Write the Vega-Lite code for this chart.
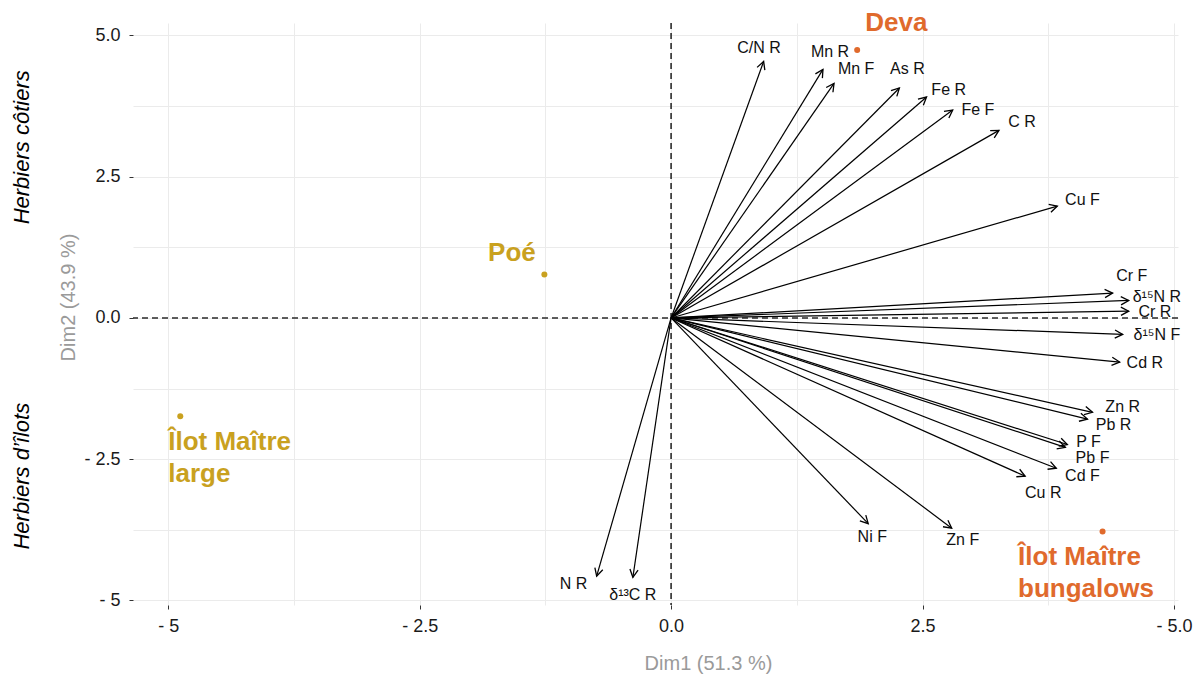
{
  "$schema": "https://vega.github.io/schema/vega-lite/v6.json",
  "width": 1045,
  "height": 582,
  "autosize": {"type": "none"},
  "padding": {"left": 133, "top": 23, "right": 26, "bottom": 75},
  "background": "white",
  "config": {"view": {"stroke": null}, "font": "Liberation Sans"},
  "datasets": {
    "vars": [
      {"var": "C/N R", "x": 0.92, "y": 4.54, "lx": 0.875, "ly": 4.77},
      {"var": "Mn R", "x": 1.51, "y": 4.40, "lx": 1.58, "ly": 4.70},
      {"var": "Mn F", "x": 1.62, "y": 4.15, "lx": 1.84, "ly": 4.40},
      {"var": "As R", "x": 2.27, "y": 4.07, "lx": 2.35, "ly": 4.40},
      {"var": "Fe R", "x": 2.54, "y": 3.91, "lx": 2.76, "ly": 4.03},
      {"var": "Fe F", "x": 2.80, "y": 3.68, "lx": 3.05, "ly": 3.68},
      {"var": "C R", "x": 3.26, "y": 3.32, "lx": 3.49, "ly": 3.46},
      {"var": "Cu F", "x": 3.84, "y": 1.98, "lx": 4.09, "ly": 2.08},
      {"var": "Cr F", "x": 4.39, "y": 0.44, "lx": 4.58, "ly": 0.74},
      {"var": "δ¹⁵N R", "x": 4.55, "y": 0.31, "lx": 4.83, "ly": 0.37},
      {"var": "Cr R", "x": 4.55, "y": 0.12, "lx": 4.81, "ly": 0.10},
      {"var": "δ¹⁵N F", "x": 4.49, "y": -0.29, "lx": 4.83, "ly": -0.31},
      {"var": "Cd R", "x": 4.46, "y": -0.78, "lx": 4.71, "ly": -0.80},
      {"var": "Zn R", "x": 4.19, "y": -1.67, "lx": 4.49, "ly": -1.58},
      {"var": "Pb R", "x": 4.14, "y": -1.79, "lx": 4.40, "ly": -1.90},
      {"var": "P F", "x": 3.94, "y": -2.24, "lx": 4.15, "ly": -2.20},
      {"var": "Pb F", "x": 3.92, "y": -2.29, "lx": 4.19, "ly": -2.48},
      {"var": "Cd F", "x": 3.83, "y": -2.66, "lx": 4.09, "ly": -2.80},
      {"var": "Cu R", "x": 3.52, "y": -2.80, "lx": 3.70, "ly": -3.10},
      {"var": "Ni F", "x": 1.96, "y": -3.64, "lx": 2.00, "ly": -3.88},
      {"var": "Zn F", "x": 2.79, "y": -3.72, "lx": 2.90, "ly": -3.93},
      {"var": "N R", "x": -0.74, "y": -4.57, "lx": -0.97, "ly": -4.70},
      {"var": "δ¹³C R", "x": -0.38, "y": -4.59, "lx": -0.38, "ly": -4.91}
    ],
    "sites": [
      {"site": "Deva", "label": "Deva", "x": 1.85, "y": 4.74, "lx": 1.93, "ly": 5.07},
      {"site": "Poé", "label": "Poé", "x": -1.26, "y": 0.77, "lx": -1.82, "ly": 1.00},
      {"site": "Îlot Maître large", "label": "Îlot Maître\nlarge", "x": -4.88, "y": -1.74, "lx": -5.0, "ly": -2.34},
      {"site": "Îlot Maître bungalows", "label": "Îlot Maître\nbungalows", "x": 4.29, "y": -3.78, "lx": 3.45, "ly": -4.38}
    ],
    "zones": [
      {"label": "Herbiers côtiers", "x": -6.45, "y": 3.02},
      {"label": "Herbiers d’îlots", "x": -6.45, "y": -2.80}
    ],
    "zero": [{"v": 0}]
  },
  "resolve": {"scale": {"x": "shared", "y": "shared"}},
  "layer": [
    {
      "data": {"name": "zero"},
      "mark": {"type": "rule", "strokeDash": [6, 4], "strokeWidth": 1.6, "color": "#2b2b2b"},
      "encoding": {
        "y": {
          "field": "v", "type": "quantitative",
          "scale": {"domain": [-5.08, 5.22], "nice": false, "zero": false},
          "axis": {
            "title": "Dim2 (43.9 %)",
            "values": [-5, -3.75, -2.5, -1.25, 0, 1.25, 2.5, 3.75, 5],
            "labelExpr": "datum.value==5?'5.0':datum.value==2.5?'2.5':datum.value==0?'0.0':datum.value==-2.5?'- 2.5':datum.value==-5?'- 5':''",
            "grid": true, "gridColor": "#ebebeb", "gridWidth": 1,
            "domain": false, "tickSize": 4, "tickWidth": 1,
            "tickColor": {"condition": {"test": "abs(datum.value) % 2.5 > 0.01", "value": "transparent"}, "value": "#333333"},
            "labelFontSize": 18, "labelColor": "#1a1a1a", "labelPadding": 9,
            "labelOverlap": false, "labelFlush": false,
            "titleColor": "#9a9a9a", "titleFontSize": 20, "titleFontWeight": "normal",
            "titleX": -65, "titleY": 274, "titleBaseline": "middle", "titleAngle": -90, "titleAlign": "center"
          }
        }
      }
    },
    {
      "data": {"name": "zero"},
      "mark": {"type": "rule", "strokeDash": [6, 4], "strokeWidth": 1.6, "color": "#2b2b2b"},
      "encoding": {
        "x": {
          "field": "v", "type": "quantitative",
          "scale": {"domain": [-5.35, 5.04], "nice": false, "zero": false},
          "axis": {
            "title": "Dim1 (51.3 %)",
            "values": [-5, -3.75, -2.5, -1.25, 0, 1.25, 2.5, 3.75, 5],
            "labelExpr": "datum.value==-5?'- 5':datum.value==-2.5?'- 2.5':datum.value==0?'0.0':datum.value==2.5?'2.5':datum.value==5?'- 5.0':''",
            "grid": true, "gridColor": "#ebebeb", "gridWidth": 1,
            "domain": false, "tickSize": 4, "tickWidth": 1,
            "tickColor": {"condition": {"test": "abs(datum.value) % 2.5 > 0.01", "value": "transparent"}, "value": "#333333"},
            "labelFontSize": 18, "labelColor": "#1a1a1a", "labelPadding": 8,
            "labelOverlap": false, "labelFlush": false,
            "titleColor": "#9a9a9a", "titleFontSize": 20, "titleFontWeight": "normal",
            "titleX": 575, "titleY": 58, "titleBaseline": "middle", "titleAlign": "center"
          }
        }
      }
    },
    {
      "data": {"name": "vars"},
      "mark": {"type": "rule", "color": "black", "strokeWidth": 1.2},
      "encoding": {
        "x": {"field": "x", "type": "quantitative", "title": "Dim1 (51.3 %)"},
        "y": {"field": "y", "type": "quantitative", "title": "Dim2 (43.9 %)"},
        "x2": {"datum": 0},
        "y2": {"datum": 0}
      }
    },
    {
      "data": {"name": "vars"},
      "transform": [{"calculate": "atan2(datum.x * 100.6, datum.y * 56.5) * 180 / PI", "as": "ang"}],
      "mark": {"type": "point", "shape": "M -0.5 0.95 L 0 0 L 0.5 0.95", "filled": false, "stroke": "black", "strokeWidth": 1.3, "size": 270, "opacity": 1},
      "encoding": {
        "x": {"field": "x", "type": "quantitative", "title": "Dim1 (51.3 %)"},
        "y": {"field": "y", "type": "quantitative", "title": "Dim2 (43.9 %)"},
        "angle": {"field": "ang", "type": "quantitative", "scale": null}
      }
    },
    {
      "data": {"name": "vars"},
      "mark": {"type": "text", "fontSize": 16, "color": "#111111", "align": "center", "baseline": "middle"},
      "encoding": {
        "x": {"field": "lx", "type": "quantitative", "title": "Dim1 (51.3 %)"},
        "y": {"field": "ly", "type": "quantitative", "title": "Dim2 (43.9 %)"},
        "text": {"field": "var"}
      }
    },
    {
      "data": {"name": "sites"},
      "mark": {"type": "circle", "size": 36, "opacity": 1},
      "encoding": {
        "x": {"field": "x", "type": "quantitative", "title": "Dim1 (51.3 %)"},
        "y": {"field": "y", "type": "quantitative", "title": "Dim2 (43.9 %)"},
        "color": {"field": "site", "type": "nominal", "legend": null,
          "scale": {"domain": ["Deva", "Poé", "Îlot Maître large", "Îlot Maître bungalows"], "range": ["#e06a2c", "#c9a11f", "#c9a11f", "#e06a2c"]}}
      }
    },
    {
      "data": {"name": "sites"},
      "mark": {"type": "text", "fontSize": 26, "fontWeight": "bold", "align": "left", "baseline": "alphabetic", "lineBreak": "\n", "lineHeight": 32},
      "encoding": {
        "x": {"field": "lx", "type": "quantitative", "title": "Dim1 (51.3 %)"},
        "y": {"field": "ly", "type": "quantitative", "title": "Dim2 (43.9 %)"},
        "text": {"field": "label"},
        "color": {"field": "site", "type": "nominal", "legend": null}
      }
    },
    {
      "data": {"name": "zones"},
      "mark": {"type": "text", "fontSize": 22, "fontStyle": "italic", "angle": 270, "align": "center", "baseline": "middle", "color": "black"},
      "encoding": {
        "x": {"field": "x", "type": "quantitative", "title": "Dim1 (51.3 %)"},
        "y": {"field": "y", "type": "quantitative", "title": "Dim2 (43.9 %)"},
        "text": {"field": "label"}
      }
    }
  ]
}
